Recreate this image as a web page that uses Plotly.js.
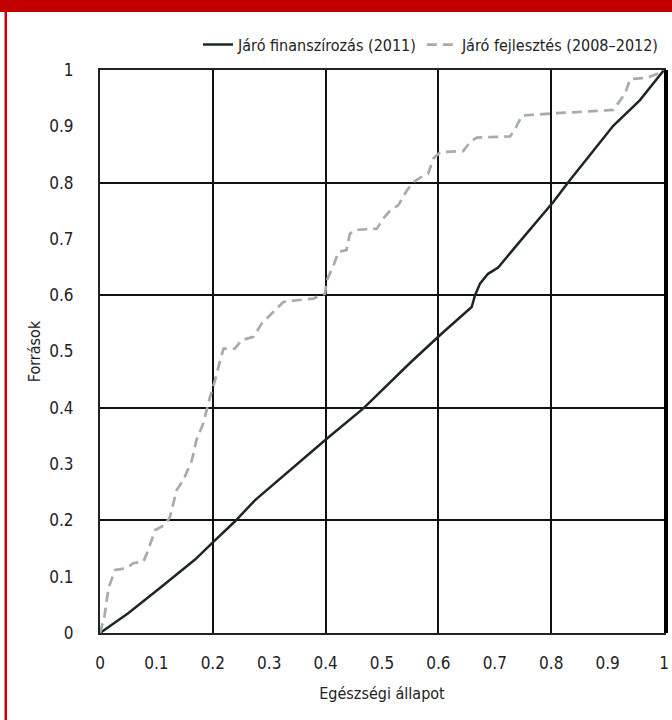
<!DOCTYPE html>
<html>
<head>
<meta charset="utf-8">
<script src="https://cdn.plot.ly/plotly-3.0.1.min.js"></script>
<style>
html,body{margin:0;padding:0;background:#fff;}
#chart{width:672px;height:720px;}
</style>
</head>
<body>
<div id="chart"></div>
<script>
// Concentration curves
const finX = [0, 0.05, 0.109, 0.168, 0.201, 0.239, 0.275, 0.34, 0.402, 0.467, 0.55, 0.606, 0.659, 0.665, 0.674, 0.688, 0.706, 0.739, 0.804, 0.833, 0.91, 0.957, 1];
const finY = [0, 0.035, 0.082, 0.13, 0.162, 0.198, 0.236, 0.292, 0.345, 0.399, 0.48, 0.532, 0.579, 0.600, 0.621, 0.638, 0.649, 0.689, 0.766, 0.804, 0.901, 0.946, 1];

const fejX = [0, 0.008, 0.015, 0.027, 0.047, 0.059, 0.077, 0.083, 0.098, 0.115, 0.124, 0.136, 0.148, 0.163, 0.171, 0.183, 0.195, 0.204, 0.213, 0.219, 0.239, 0.251, 0.272, 0.287, 0.304, 0.325, 0.349, 0.378, 0.399, 0.402, 0.414, 0.423, 0.437, 0.443, 0.452, 0.491, 0.502, 0.514, 0.529, 0.544, 0.556, 0.57, 0.582, 0.591, 0.603, 0.644, 0.656, 0.668, 0.727, 0.735, 0.748, 0.804, 0.91, 0.919, 0.931, 0.94, 0.969, 0.996, 1];
const fejY = [0, 0.03, 0.08, 0.112, 0.115, 0.124, 0.127, 0.141, 0.183, 0.192, 0.206, 0.254, 0.272, 0.307, 0.343, 0.372, 0.419, 0.449, 0.484, 0.505, 0.505, 0.52, 0.526, 0.55, 0.567, 0.588, 0.591, 0.594, 0.603, 0.626, 0.653, 0.677, 0.68, 0.709, 0.716, 0.718, 0.736, 0.75, 0.76, 0.786, 0.801, 0.81, 0.816, 0.843, 0.854, 0.856, 0.872, 0.88, 0.882, 0.893, 0.919, 0.923, 0.929, 0.942, 0.958, 0.984, 0.986, 0.996, 1];

const seriesNames = ['Járó finanszírozás (2011)', 'Járó fejlesztés (2008–2012)'];
const xTitle = 'Egészségi állapot';
const yTitle = 'Források';

const FONT = 'Liberation Sans Narrow, DejaVu Sans Condensed, Arial Narrow, sans-serif';

const traces = [
  {x: finX, y: finY, name: seriesNames[0], type: 'scatter', mode: 'lines',
   line: {color: '#1c2626', width: 2.5}, xaxis: 'x', yaxis: 'y'},
  {x: fejX, y: fejY, name: seriesNames[1], type: 'scatter', mode: 'lines',
   line: {color: '#a3aeab', width: 2.7, dash: '10px,6px'}, xaxis: 'x2', yaxis: 'y2'}
];

const layout = {
  width: 672, height: 720,
  margin: {l: 100, r: 8, t: 70, b: 87},
  paper_bgcolor: '#fff', plot_bgcolor: '#fff',
  font: {family: FONT, size: 16, color: '#222'},
  showlegend: true,
  legend: {orientation: 'h', x: 1.0, xanchor: 'right', y: 1.045, yanchor: 'middle',
           font: {family: FONT, size: 16, color: '#222'}, bgcolor: 'rgba(0,0,0,0)'},
  xaxis: {range: [0, 1], dtick: 0.1, tick0: 0, showgrid: false, zeroline: false,
          showline: true, mirror: true, linecolor: '#222', linewidth: 2,
          ticks: '', ticklabelstandoff: 14, tickfont: {family: FONT, size: 17, color: '#222'},
          title: {text: xTitle, standoff: 15, font: {family: FONT, size: 16, color: '#222'}}},
  yaxis: {range: [0, 1], dtick: 0.1, tick0: 0, showgrid: false, zeroline: false,
          showline: true, mirror: true, linecolor: '#222', linewidth: 2,
          ticks: '', ticklabelstandoff: 21, tickfont: {family: FONT, size: 17, color: '#222'},
          title: {text: yTitle, standoff: 5, font: {family: FONT, size: 16, color: '#222'}}},
  xaxis2: {overlaying: 'x', anchor: 'y', range: [0, 1], dtick: 0.2, tick0: 0,
           showgrid: true, gridcolor: '#111', gridwidth: 2, showticklabels: false,
           zeroline: false, showline: false, ticks: ''},
  yaxis2: {overlaying: 'y', anchor: 'x', side: 'right', range: [0, 1], dtick: 0.2, tick0: 0,
           showgrid: true, gridcolor: '#111', gridwidth: 2, showticklabels: false,
           zeroline: false, showline: true, linecolor: '#000', linewidth: 4, ticks: ''},
  shapes: [
    {type: 'rect', xref: 'paper', yref: 'paper', x0: -0.1773, x1: 1.0142, y0: 1.1030, y1: 1.13,
     fillcolor: '#c20000', line: {width: 0}, layer: 'above'},
    {type: 'rect', xref: 'paper', yref: 'paper', x0: -0.1693, x1: -0.1649, y0: -0.16, y1: 1.105,
     fillcolor: '#c20000', line: {width: 0}, layer: 'above'}
  ]
};

Plotly.newPlot('chart', traces, layout, {displayModeBar: false, staticPlot: true});
</script>
</body>
</html>
